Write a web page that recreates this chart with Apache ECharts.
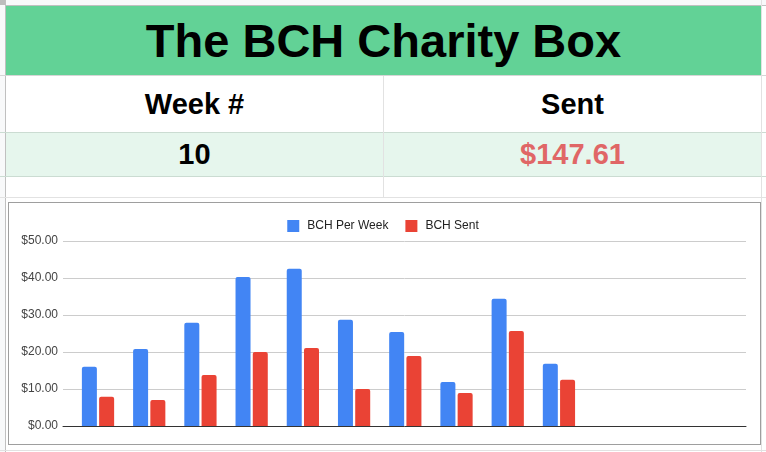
<!DOCTYPE html>
<html><head><meta charset="utf-8">
<script src="https://cdn.jsdelivr.net/npm/echarts@6/dist/echarts.min.js"></script>
<style>
html,body{margin:0;padding:0;width:766px;height:452px;overflow:hidden;background:#fff;font-family:"Liberation Sans",Arial,sans-serif;}
.abs{position:absolute;box-sizing:border-box;}
.cell{position:absolute;display:flex;align-items:center;justify-content:center;font-weight:bold;color:#000;}
.h{position:absolute;left:0;width:766px;height:1px;}
.v{position:absolute;width:1px;}
</style></head><body>
<!-- spreadsheet chrome -->
<div class="abs" style="left:0;top:0;width:766px;height:6px;background:#f8f9fa;border-bottom:1px solid #c0c0c0"></div>
<div class="abs" style="left:0;top:0;width:6px;height:452px;background:#f8f9fa;border-right:1px solid #c0c0c0"></div>
<div class="abs" style="left:0;top:0;width:5px;height:5px;background:#bdbdbd"></div>
<div class="abs" style="left:6px;top:6px;width:755px;height:69px;background:#62d296"></div>
<div class="abs" style="left:6px;top:133px;width:755px;height:43px;background:#e6f6ed"></div>
<div class="h" style="top:75px;background:#d6d6d6"></div>
<div class="h" style="top:132px;background:#cbdcd2"></div>
<div class="h" style="top:176px;background:#cbdcd2"></div>
<div class="h" style="top:197px;background:#e2e2e2"></div>
<div class="h" style="top:450px;background:#e2e2e2"></div>
<div class="v" style="left:383px;top:76px;height:121px;background:#e2e2e2"></div>
<div class="v" style="left:761px;top:0;height:452px;background:#e2e2e2"></div>
<div id="title" class="cell" style="left:6px;top:6px;width:755px;height:69px;font-size:47px;"></div>
<div id="colA" class="cell" style="left:6px;top:76px;width:377px;height:56px;font-size:29px;"></div>
<div id="colB" class="cell" style="left:384px;top:76px;width:377px;height:56px;font-size:29px;"></div>
<div id="valA" class="cell" style="left:6px;top:133px;width:377px;height:43px;font-size:29px;"></div>
<div id="valB" class="cell" style="left:384px;top:133px;width:377px;height:43px;font-size:29px;color:#e06666;"></div>
<!-- chart box -->
<div class="abs" style="left:8px;top:202px;width:753px;height:243px;background:#fff;border:1px solid #9e9e9e"></div>
<div id="chart" class="abs" style="left:0;top:0;width:766px;height:452px;"></div>
<script>
// ---- data ----
const sheetTitle = 'The BCH Charity Box';
const headerLabels = ['Week #', 'Sent'];
const weekNumber = 10;
const totalSent = 147.61;
const categories = ['Week 1','Week 2','Week 3','Week 4','Week 5','Week 6','Week 7','Week 8','Week 9','Week 10','Week 11','Week 12','Week 13'];
const seriesNames = ['BCH Per Week', 'BCH Sent'];
const bchPerWeek = [16.0, 20.8, 27.9, 40.3, 42.5, 28.7, 25.4, 11.9, 34.4, 16.8];
const bchSent = [7.9, 7.0, 13.8, 20.0, 21.1, 10.0, 18.9, 8.9, 25.7, 12.5];
const yTicks = [0, 10, 20, 30, 40, 50];

document.getElementById('title').textContent = sheetTitle;
document.getElementById('colA').textContent = headerLabels[0];
document.getElementById('colB').textContent = headerLabels[1];
document.getElementById('valA').textContent = String(weekNumber);
document.getElementById('valB').textContent = '$' + totalSent.toFixed(2);

const chart = echarts.init(document.getElementById('chart'), null, {renderer: 'canvas'});
const font = '"Liberation Sans", Arial, sans-serif';
chart.setOption({
  animation: false,
  backgroundColor: 'transparent',
  textStyle: {fontFamily: font},
  legend: {
    data: seriesNames,
    left: 'center', top: 215,
    icon: 'rect', itemWidth: 12, itemHeight: 12, itemGap: 17,
    textStyle: {fontSize: 12, color: '#222', fontFamily: font, padding: [0, 0, 0, 3]}
  },
  grid: [
    {left: 63, right: 20, top: 241, bottom: 26},
    {left: 72.4, right: 27.8, top: 241, bottom: 26}
  ],
  xAxis: [
    {gridIndex: 0, type: 'category', data: categories, z: 5,
     axisLine: {show: true, lineStyle: {color: '#333', width: 1}},
     axisTick: {show: false}, axisLabel: {show: false}, splitLine: {show: false}},
    {gridIndex: 1, type: 'category', data: categories, show: false}
  ],
  yAxis: [
    {gridIndex: 0, type: 'value', min: yTicks[0], max: yTicks[yTicks.length - 1], interval: 10,
     axisLine: {show: false}, axisTick: {show: false},
     axisLabel: {fontSize: 12, color: '#444', margin: 5, fontFamily: font,
       formatter: v => '$' + v.toFixed(2)},
     splitLine: {lineStyle: {color: '#cccccc', width: 1}}},
    {gridIndex: 1, type: 'value', min: yTicks[0], max: yTicks[yTicks.length - 1], interval: 10, show: false,
     splitLine: {show: false}}
  ],
  series: [
    {name: seriesNames[0], type: 'bar', xAxisIndex: 1, yAxisIndex: 1, data: bchPerWeek,
     barWidth: 15, barGap: '15%', itemStyle: {color: '#4285f4', borderRadius: [2, 2, 0, 0]}},
    {name: seriesNames[1], type: 'bar', xAxisIndex: 1, yAxisIndex: 1, data: bchSent,
     barWidth: 15, barGap: '15%', itemStyle: {color: '#ea4335', borderRadius: [2, 2, 0, 0]}}
  ]
});
</script>
</body></html>
